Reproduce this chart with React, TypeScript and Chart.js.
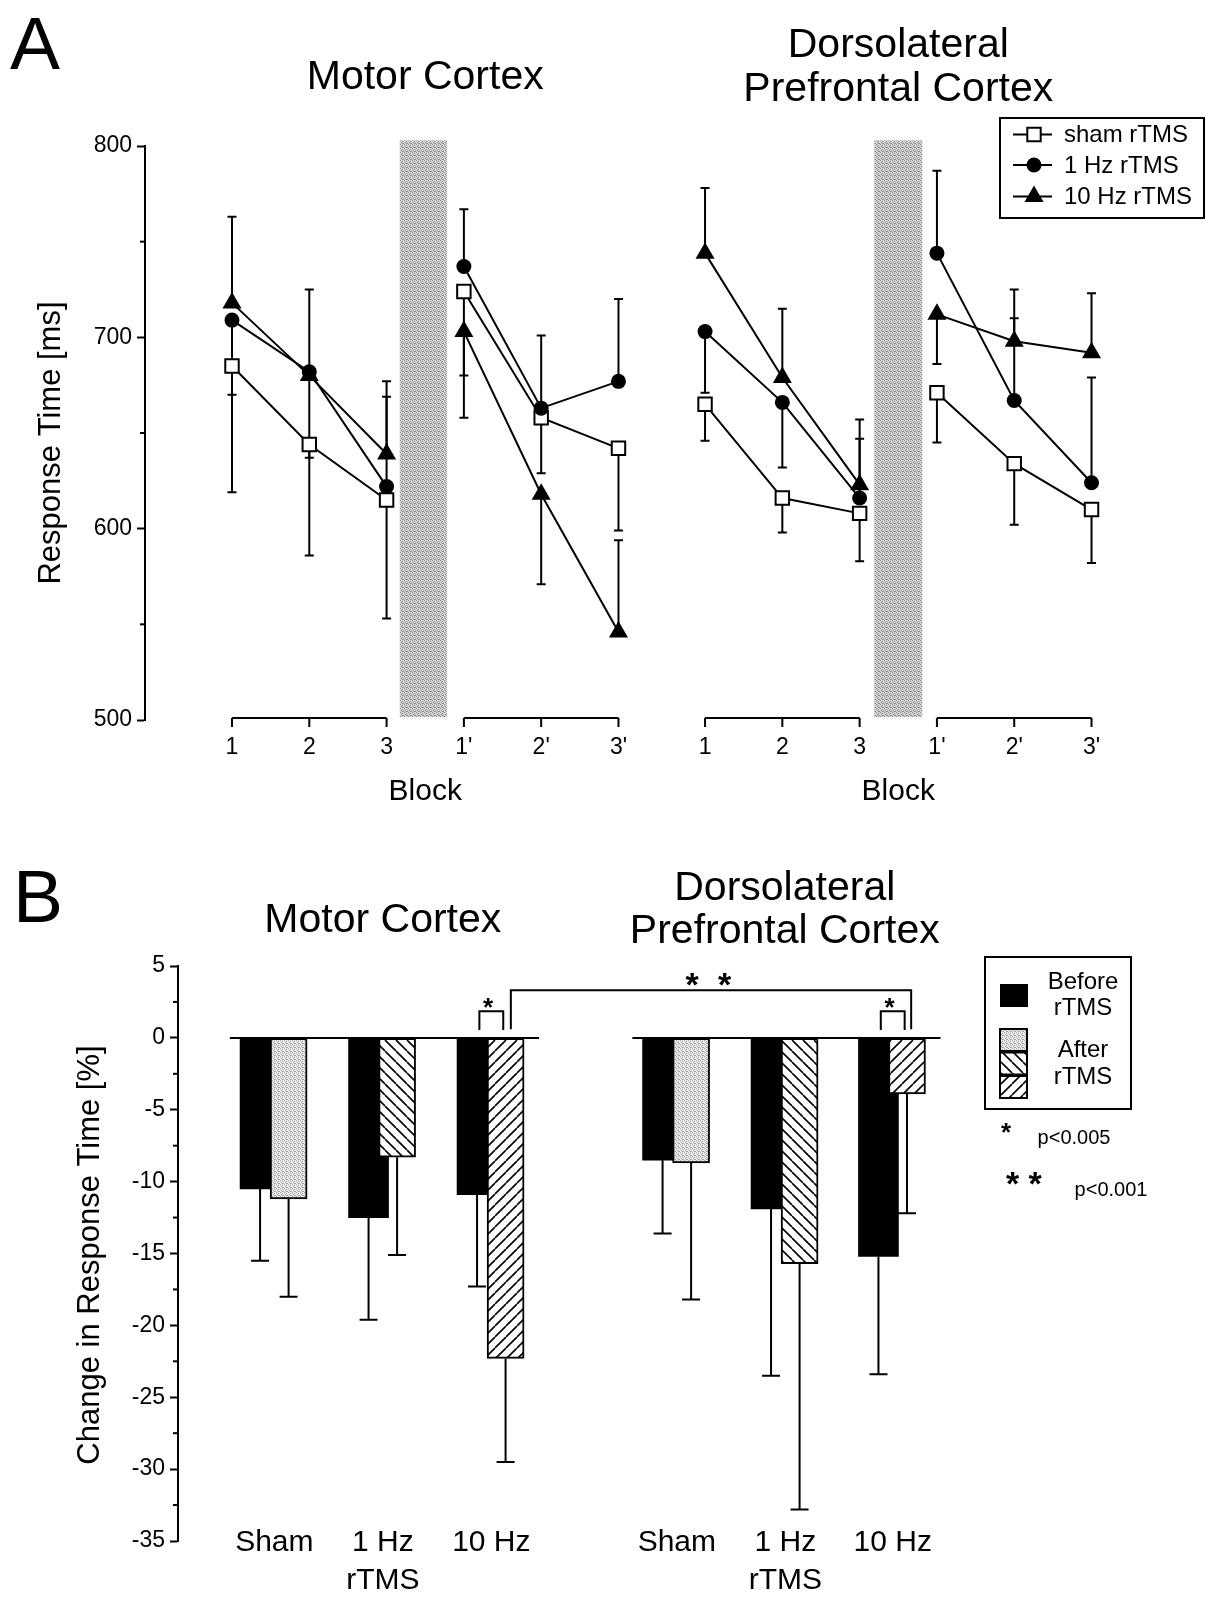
import React, { useEffect, useRef } from 'react';
import { Chart, registerables } from 'chart.js';

Chart.register(...registerables);

const FONT = "'Liberation Sans', Arial, Helvetica, sans-serif";

// ---------------- Panel A data (response time, ms) ----------------
const blockLabels = ['1', '2', '3', "1'", "2'", "3'"];
const motorBlockPos = [0, 1, 2, 3, 4, 5];
const dlpfcBlockPos = [6.12, 7.12, 8.12, 9.12, 10.12, 11.12];
const yTicksA = [500, 600, 700, 800];
const yMinorA = [550, 650, 750];

const motorSham = [685, 644, 615, 724, 658, 642];
const motorShamErr = [619, 586, 553, 680, 629, 599];
const motor1Hz = [709, 682, 622, 737, 663, 677];
const motor1HzErr = [670, 725, 669, 767, 701, 720];
const motor10Hz = [718, 680, 639, 703, 618, 546];
const motor10HzErr = [763, 637, 677, 658, 571, 594];

const dlpfcSham = [665, 616, 608, 671, 634, 610];
const dlpfcShamErr = [646, 598, 583, 645, 602, 582];
const dlpfc1Hz = [703, 666, 616, 744, 667, 624];
const dlpfc1HzErr = [671, 632, 647, 787, 710, 679];
const dlpfc10Hz = [744, 679, 623, 712, 698, 692];
const dlpfc10HzErr = [778, 715, 657, 686, 725, 723];

const seriesNames = ['sham rTMS', '1 Hz rTMS', '10 Hz rTMS'];

// ---------------- Panel B data (change in response time, %) ----------------
const groupLabels = ['Sham', '1 Hz', '10 Hz'];
const groupSubLabels = ['', 'rTMS', ''];
const motorGroupPos = [0, 1, 2];
const dlpfcGroupPos = [3.71, 4.71, 5.7];
const yTicksB = [5, 0, -5, -10, -15, -20, -25, -30, -35];

const motorBefore = [-10.5, -12.5, -10.9];
const motorBeforeErr = [-15.5, -19.6, -17.3];
const motorAfter = [-11.2, -8.3, -22.3];
const motorAfterErr = [-18.0, -15.1, -29.5];

const dlpfcBefore = [-8.5, -11.9, -15.2];
const dlpfcBeforeErr = [-13.6, -23.5, -23.4];
const dlpfcAfter = [-8.7, -15.7, -3.9];
const dlpfcAfterErr = [-18.2, -32.8, -12.2];

// ---------------- helpers ----------------
function font(size: number, weight = 'normal') {
  return `${weight} ${size}px ${FONT}`;
}

function text(ctx: any, s: string, x: number, y: number, size: number, align = 'center', baseline = 'alphabetic', weight = 'normal') {
  ctx.save();
  ctx.fillStyle = '#000';
  ctx.font = font(size, weight);
  ctx.textAlign = align;
  ctx.textBaseline = baseline;
  ctx.fillText(s, x, y);
  ctx.restore();
}

function star(ctx: any, cx: number, cy: number, size: number) {
  // asterisk glyph: visual centre approx 0.58em above baseline
  text(ctx, '*', cx, cy + 0.58 * size, size, 'center', 'alphabetic', 'bold');
}

function marker(ctx: any, style: string, x: number, y: number) {
  ctx.save();
  ctx.strokeStyle = '#000';
  ctx.beginPath();
  if (style === 'rect') {
    const h = 6.7;
    ctx.rect(x - h, y - h, 2 * h, 2 * h);
    ctx.fillStyle = '#fff';
    ctx.lineWidth = 2;
    ctx.fill();
    ctx.stroke();
  } else if (style === 'circle') {
    ctx.arc(x, y, 7.5, 0, Math.PI * 2);
    ctx.fillStyle = '#000';
    ctx.fill();
  } else {
    const r = 11;
    ctx.moveTo(x, y - r);
    ctx.lineTo(x + r * Math.sin((2 * Math.PI) / 3), y - r * Math.cos((2 * Math.PI) / 3));
    ctx.lineTo(x - r * Math.sin((2 * Math.PI) / 3), y - r * Math.cos((2 * Math.PI) / 3));
    ctx.closePath();
    ctx.fillStyle = '#000';
    ctx.fill();
  }
  ctx.restore();
}

function makeStipple(light: string, dark: string) {
  const c = document.createElement('canvas');
  c.width = 4;
  c.height = 4;
  const g = c.getContext('2d')!;
  g.fillStyle = light;
  g.fillRect(0, 0, 4, 4);
  g.fillStyle = dark;
  [[0, 0], [2, 1], [1, 2], [3, 3], [2, 3]].forEach(([x, y]) => g.fillRect(x, y, 1, 1));
  return g.createPattern(c, 'repeat')!;
}

function makeHatch(back: boolean) {
  const s = 11;
  const c = document.createElement('canvas');
  c.width = s;
  c.height = s;
  const g = c.getContext('2d')!;
  g.fillStyle = '#fff';
  g.fillRect(0, 0, s, s);
  g.strokeStyle = '#000';
  g.lineWidth = 1.6;
  g.beginPath();
  for (let k = -1; k <= 1; k++) {
    if (back) {
      g.moveTo(k * s, 0);
      g.lineTo(k * s + s, s);
    } else {
      g.moveTo(k * s, s);
      g.lineTo(k * s + s, 0);
    }
  }
  g.stroke();
  return g.createPattern(c, 'repeat')!;
}

function seriesPoints(motor: number[], dlpfc: number[]) {
  const pts: any[] = [];
  const add = (pos: number[], vals: number[]) => {
    for (let i = 0; i < 6; i++) {
      if (i === 3) pts.push({ x: (pos[2] + pos[3]) / 2, y: null });
      pts.push({ x: pos[i], y: vals[i] });
    }
  };
  add(motorBlockPos, motor);
  pts.push({ x: (motorBlockPos[5] + dlpfcBlockPos[0]) / 2, y: null });
  add(dlpfcBlockPos, dlpfc);
  return pts;
}

// ---------------- Panel A ----------------
function buildA(canvas: HTMLCanvasElement) {
  const shade = makeStipple('#d2d2d2', '#8e8e8e');
  const styles = ['rect', 'circle', 'triangle'];
  const vals = [
    [motorSham, dlpfcSham],
    [motor1Hz, dlpfc1Hz],
    [motor10Hz, dlpfc10Hz],
  ];
  const errs = [
    [motorShamErr, dlpfcShamErr],
    [motor1HzErr, dlpfc1HzErr],
    [motor10HzErr, dlpfc10HzErr],
  ];

  const plugin = {
    id: 'panelA',
    beforeDatasetsDraw(chart: any) {
      const { ctx, scales } = chart;
      const x = scales.x;
      const y = scales.y;
      ctx.save();
      // shaded rTMS periods
      ctx.fillStyle = shade;
      const spans = [
        [motorBlockPos[2] + 0.17, motorBlockPos[2] + 0.78],
        [dlpfcBlockPos[2] + 0.19, dlpfcBlockPos[2] + 0.81],
      ];
      for (const [a, b] of spans) {
        const x0 = x.getPixelForValue(a);
        const x1 = x.getPixelForValue(b);
        const y0 = y.getPixelForValue(803);
        const y1 = y.getPixelForValue(501.5);
        ctx.fillRect(x0, y0, x1 - x0, y1 - y0);
      }
      // error bars
      ctx.strokeStyle = '#000';
      ctx.lineWidth = 2;
      for (let s = 0; s < 3; s++) {
        [motorBlockPos, dlpfcBlockPos].forEach((pos, p) => {
          for (let i = 0; i < 6; i++) {
            const px = x.getPixelForValue(pos[i]);
            const py0 = y.getPixelForValue(vals[s][p][i]);
            const py1 = y.getPixelForValue(errs[s][p][i]);
            ctx.beginPath();
            ctx.moveTo(px, py0);
            ctx.lineTo(px, py1);
            ctx.moveTo(px - 4.5, py1);
            ctx.lineTo(px + 4.5, py1);
            ctx.stroke();
          }
        });
      }
      ctx.restore();
    },
    afterDraw(chart: any) {
      const { ctx, scales } = chart;
      const x = scales.x;
      const y = scales.y;
      ctx.save();
      ctx.strokeStyle = '#000';
      ctx.lineWidth = 2;
      // minor y ticks
      const ax = chart.chartArea.left;
      for (const v of yMinorA) {
        const py = y.getPixelForValue(v);
        ctx.beginPath();
        ctx.moveTo(ax - 5, py);
        ctx.lineTo(ax, py);
        ctx.stroke();
      }
      // block brackets
      const by = y.getPixelForValue(501);
      for (const pos of [motorBlockPos, dlpfcBlockPos]) {
        for (const [a, b] of [[0, 2], [3, 5]]) {
          ctx.beginPath();
          ctx.moveTo(x.getPixelForValue(pos[a]), by);
          ctx.lineTo(x.getPixelForValue(pos[b]), by);
          for (let i = a; i <= b; i++) {
            const px = x.getPixelForValue(pos[i]);
            ctx.moveTo(px, by);
            ctx.lineTo(px, by + 9);
          }
          ctx.stroke();
        }
      }
      ctx.restore();

      // texts
      text(ctx, 'A', 10, 69, 75, 'left');
      const mC = (x.getPixelForValue(motorBlockPos[0]) + x.getPixelForValue(motorBlockPos[5])) / 2;
      const dC = (x.getPixelForValue(dlpfcBlockPos[0]) + x.getPixelForValue(dlpfcBlockPos[5])) / 2;
      text(ctx, 'Motor Cortex', mC, 89, 41);
      text(ctx, 'Dorsolateral', dC, 57, 41);
      text(ctx, 'Prefrontal Cortex', dC, 100.5, 41);
      text(ctx, 'Block', mC, 800, 30);
      text(ctx, 'Block', dC, 800, 30);
      ctx.save();
      ctx.translate(51, 443);
      ctx.rotate(-Math.PI / 2);
      text(ctx, 'Response Time [ms]', 0, 0, 31, 'center', 'middle');
      ctx.restore();

      // legend
      ctx.save();
      ctx.strokeStyle = '#000';
      ctx.lineWidth = 2;
      ctx.strokeRect(1000, 118, 204, 100);
      const rows = [134.5, 165, 196.5];
      rows.forEach((ry, i) => {
        ctx.beginPath();
        ctx.moveTo(1013, ry);
        ctx.lineTo(1052, ry);
        ctx.stroke();
        marker(ctx, styles[i], 1034, ry);
        text(ctx, seriesNames[i], 1064, ry + 1, 24, 'left', 'middle');
      });
      ctx.restore();
    },
  };

  const datasets = [0, 1, 2].map((s) => ({
    label: seriesNames[s],
    data: seriesPoints(vals[s][0], vals[s][1]),
    borderColor: '#000',
    borderWidth: 2,
    tension: 0,
    spanGaps: false,
    pointStyle: styles[s],
    pointRadius: s === 0 ? 9.5 : s === 1 ? 7.5 : 11,
    pointBorderWidth: s === 0 ? 2 : 0,
    pointBackgroundColor: s === 0 ? '#fff' : '#000',
    pointBorderColor: '#000',
    order: 3 - s,
    clip: false,
  }));

  return new Chart(canvas, {
    type: 'line',
    data: { datasets } as any,
    plugins: [plugin],
    options: {
      animation: false,
      responsive: false,
      devicePixelRatio: 1,
      events: [],
      layout: { padding: { top: 146, right: 31, bottom: 0, left: 0 } },
      plugins: { legend: { display: false }, tooltip: { enabled: false }, title: { display: false } },
      scales: {
        x: {
          type: 'linear',
          min: -1.1255,
          max: 12.2,
          offset: false,
          grid: { display: false, drawTicks: false },
          border: { display: false },
          afterBuildTicks: (s: any) => {
            s.ticks = [...motorBlockPos, ...dlpfcBlockPos].map((v) => ({ value: v }));
          },
          afterFit: (s: any) => {
            s.height = 100;
          },
          ticks: {
            autoSkip: false,
            maxRotation: 0,
            minRotation: 0,
            padding: 14,
            color: '#000',
            font: { size: 23, family: FONT },
            callback: (_v: any, i: number) => blockLabels[i % 6],
          },
        },
        y: {
          type: 'linear',
          min: 500,
          max: 800,
          afterBuildTicks: (s: any) => {
            s.ticks = yTicksA.map((v) => ({ value: v }));
          },
          afterFit: (s: any) => {
            s.width = 145;
          },
          ticks: { padding: 5, color: '#000', font: { size: 23, family: FONT } },
          grid: { drawOnChartArea: false, drawTicks: true, tickLength: 8, tickWidth: 2, tickColor: '#000' },
          border: { display: true, color: '#000', width: 2 },
        },
      },
    } as any,
  });
}

// ---------------- Panel B ----------------
function buildB(canvas: HTMLCanvasElement) {
  const ctx0 = canvas.getContext('2d')!;
  const gray = makeStipple('#e8e8e8', '#a6a6a6');
  const back = makeHatch(true);
  const slash = makeHatch(false);
  const afterFills = [gray, back, slash, gray, back, slash];
  const OFF = 0.1315;
  const allPos = [...motorGroupPos, ...dlpfcGroupPos];
  const before = [...motorBefore, ...dlpfcBefore];
  const beforeErr = [...motorBeforeErr, ...dlpfcBeforeErr];
  const after = [...motorAfter, ...dlpfcAfter];
  const afterErr = [...motorAfterErr, ...dlpfcAfterErr];

  const plugin = {
    id: 'panelB',
    afterDatasetsDraw(chart: any) {
      const { ctx, scales } = chart;
      const x = scales.x;
      const y = scales.y;
      ctx.save();
      ctx.strokeStyle = '#000';
      ctx.lineWidth = 2;
      // error bars (downward)
      const eb = (xv: number, v0: number, v1: number) => {
        const px = x.getPixelForValue(xv);
        const p0 = y.getPixelForValue(v0);
        const p1 = y.getPixelForValue(v1);
        ctx.beginPath();
        ctx.moveTo(px, p0);
        ctx.lineTo(px, p1);
        ctx.moveTo(px - 9, p1);
        ctx.lineTo(px + 9, p1);
        ctx.stroke();
      };
      allPos.forEach((g, i) => {
        eb(g - OFF, before[i], beforeErr[i]);
        eb(g + OFF, after[i], afterErr[i]);
      });
      // zero lines
      const z = y.getPixelForValue(0);
      for (const pos of [motorGroupPos, dlpfcGroupPos]) {
        ctx.beginPath();
        ctx.moveTo(x.getPixelForValue(pos[0] - 0.41), z);
        ctx.lineTo(x.getPixelForValue(pos[2] + 0.44), z);
        ctx.stroke();
      }
      // significance brackets
      const small = (g: number) => {
        const a = x.getPixelForValue(g - 0.11);
        const b = x.getPixelForValue(g + 0.11);
        const t = y.getPixelForValue(1.85);
        const bt = y.getPixelForValue(0.55);
        ctx.beginPath();
        ctx.moveTo(a, bt);
        ctx.lineTo(a, t);
        ctx.lineTo(b, t);
        ctx.lineTo(b, bt);
        ctx.stroke();
        star(ctx, x.getPixelForValue(g - 0.03), y.getPixelForValue(2.6), 26);
      };
      small(motorGroupPos[2]);
      small(dlpfcGroupPos[2]);
      const la = x.getPixelForValue(motorGroupPos[2] + 0.18);
      const lb = x.getPixelForValue(dlpfcGroupPos[2] + 0.17);
      const lt = y.getPixelForValue(3.32);
      const lbt = y.getPixelForValue(0.6);
      ctx.beginPath();
      ctx.moveTo(la, lbt);
      ctx.lineTo(la, lt);
      ctx.lineTo(lb, lt);
      ctx.lineTo(lb, lbt);
      ctx.stroke();
      star(ctx, x.getPixelForValue(3.85), y.getPixelForValue(4.3), 34);
      star(ctx, x.getPixelForValue(4.15), y.getPixelForValue(4.3), 34);
      ctx.restore();
    },
    afterDraw(chart: any) {
      const { ctx, scales } = chart;
      const x = scales.x;
      const y = scales.y;
      ctx.save();
      ctx.strokeStyle = '#000';
      ctx.lineWidth = 2;
      const ax = chart.chartArea.left;
      for (let v = -32.5; v < 5; v += 5) {
        const py = y.getPixelForValue(v);
        ctx.beginPath();
        ctx.moveTo(ax - 5, py);
        ctx.lineTo(ax, py);
        ctx.stroke();
      }
      ctx.restore();

      // group (category) labels under the bars
      allPos.forEach((g, i) => {
        const px = x.getPixelForValue(g);
        text(ctx, groupLabels[i % 3], px, 723, 30, 'center', 'middle');
        if (groupSubLabels[i % 3]) text(ctx, groupSubLabels[i % 3], px, 761, 30, 'center', 'middle');
      });

      text(ctx, 'B', 13, 102, 75, 'left');
      const mC = (x.getPixelForValue(motorGroupPos[0]) + x.getPixelForValue(motorGroupPos[2])) / 2;
      const dC = (x.getPixelForValue(dlpfcGroupPos[0]) + x.getPixelForValue(dlpfcGroupPos[2])) / 2;
      text(ctx, 'Motor Cortex', mC, 112, 41);
      text(ctx, 'Dorsolateral', dC, 79.5, 41);
      text(ctx, 'Prefrontal Cortex', dC, 123, 41);
      ctx.save();
      ctx.translate(90, 435);
      ctx.rotate(-Math.PI / 2);
      text(ctx, 'Change in Response Time [%]', 0, 0, 31, 'center', 'middle');
      ctx.restore();

      // legend
      ctx.save();
      ctx.strokeStyle = '#000';
      ctx.lineWidth = 2;
      ctx.strokeRect(985, 137, 146, 152);
      ctx.fillStyle = '#000';
      ctx.fillRect(1000, 164, 28, 23);
      [gray, back, slash].forEach((f, i) => {
        ctx.fillStyle = f;
        ctx.fillRect(1000, 209 + i * 23.5, 27, 22);
        ctx.strokeRect(1000, 209 + i * 23.5, 27, 22);
      });
      ctx.restore();
      text(ctx, 'Before', 1083, 162, 24, 'center', 'middle');
      text(ctx, 'rTMS', 1083, 188, 24, 'center', 'middle');
      text(ctx, 'After', 1083, 230, 24, 'center', 'middle');
      text(ctx, 'rTMS', 1083, 257, 24, 'center', 'middle');
      star(ctx, 1006, 306, 26);
      text(ctx, 'p<0.005', 1074, 318, 20, 'center', 'middle');
      star(ctx, 1012.5, 355, 34);
      star(ctx, 1035, 355, 34);
      text(ctx, 'p<0.001', 1111, 370, 20, 'center', 'middle');
    },
  };

  return new Chart(ctx0, {
    type: 'bar',
    data: {
      datasets: [
        {
          label: 'Before rTMS',
          data: allPos.map((g, i) => ({ x: g - OFF, y: before[i] })),
          backgroundColor: '#000',
          borderWidth: 0,
          barThickness: 40,
          grouped: false,
          order: 2,
        },
        {
          label: 'After rTMS',
          data: allPos.map((g, i) => ({ x: g + OFF, y: after[i] })),
          backgroundColor: afterFills,
          borderColor: '#000',
          borderWidth: 2,
          borderSkipped: false,
          barThickness: 37,
          grouped: false,
          order: 1,
        },
      ],
    } as any,
    plugins: [plugin],
    options: {
      animation: false,
      responsive: false,
      devicePixelRatio: 1,
      events: [],
      layout: { padding: { top: 146, right: 118, bottom: 0, left: 0 } },
      plugins: { legend: { display: false }, tooltip: { enabled: false }, title: { display: false } },
      scales: {
        x: {
          type: 'linear',
          min: -0.888,
          max: 7.5,
          offset: false,
          grid: { display: false, drawTicks: false, offset: false },
          border: { display: false },
          ticks: { display: false },
          afterFit: (s: any) => {
            s.height = 56;
          },
        },
        y: {
          type: 'linear',
          min: -35,
          max: 5,
          afterBuildTicks: (s: any) => {
            s.ticks = yTicksB.map((v) => ({ value: v }));
          },
          afterFit: (s: any) => {
            s.width = 178;
          },
          ticks: { padding: 5, color: '#000', font: { size: 23, family: FONT }, callback: (v: any) => String(v) },
          grid: { drawOnChartArea: false, drawTicks: true, tickLength: 8, tickWidth: 2, tickColor: '#000' },
          border: { display: true, color: '#000', width: 2 },
        },
      },
    } as any,
  });
}

export default function App() {
  const refA = useRef<HTMLCanvasElement>(null);
  const refB = useRef<HTMLCanvasElement>(null);
  useEffect(() => {
    Chart.defaults.font.family = FONT;
    Chart.defaults.color = '#000';
    const a = buildA(refA.current!);
    const b = buildB(refB.current!);
    return () => {
      a.destroy();
      b.destroy();
    };
  }, []);
  return (
    <div style={{ position: 'absolute', left: 0, top: 0, width: 1206, height: 1597, background: '#fff' }}>
      <canvas ref={refA} width={1206} height={820} style={{ position: 'absolute', left: 0, top: 0 }} />
      <canvas ref={refB} width={1206} height={777} style={{ position: 'absolute', left: 0, top: 820 }} />
    </div>
  );
}
